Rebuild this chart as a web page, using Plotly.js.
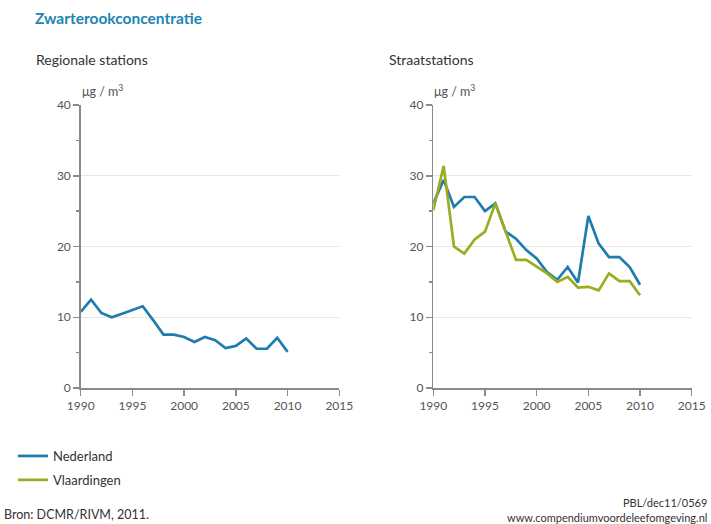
<!DOCTYPE html>
<html>
<head>
<meta charset="utf-8">
<script src="https://cdn.plot.ly/plotly-3.0.1.min.js"></script>
<style>html,body{margin:0;padding:0;background:#fff;}#chart{width:711px;height:524px;}</style>
</head>
<body>
<div id="chart"></div>
<script>
// Data
const years = [1990,1991,1992,1993,1994,1995,1996,1997,1998,1999,2000,2001,2002,2003,2004,2005,2006,2007,2008,2009,2010];
const regionaalNederland = [10.75,12.5,10.6,10.0,10.5,11.0,11.55,9.6,7.55,7.55,7.2,6.5,7.2,6.75,5.65,5.95,7.0,5.55,5.55,7.1,5.1];
const straatNederland = [26.1,29.4,25.6,27.0,27.0,25.0,26.1,22.1,21.1,19.5,18.3,16.4,15.3,17.1,14.9,24.3,20.4,18.5,18.5,17.1,14.6];
const straatVlaardingen = [25.1,31.4,20.0,19.0,21.0,22.1,26.1,22.1,18.1,18.1,17.2,16.2,15.0,15.7,14.2,14.3,13.8,16.2,15.1,15.1,13.1];
const xTicks = [1990,1995,2000,2005,2010,2015];
const yTicks = [0,10,20,30,40];
const seriesNames = ['Nederland','Vlaardingen'];

const blue = '#1f7cae';
const green = '#9aad1e';
const FONT = 'Lato, "Open Sans", sans-serif';

const traces = [
  {x: years, y: regionaalNederland, type:'scatter', mode:'lines', name: seriesNames[0],
   line:{color: blue, width:2.7}, xaxis:'x', yaxis:'y', showlegend:true, legendgroup:'ned'},
  {x: years, y: straatNederland, type:'scatter', mode:'lines', name: seriesNames[0],
   line:{color: blue, width:2.7}, xaxis:'x2', yaxis:'y2', showlegend:false, legendgroup:'ned'},
  {x: years, y: straatVlaardingen, type:'scatter', mode:'lines', name: seriesNames[1],
   line:{color: green, width:2.7}, xaxis:'x2', yaxis:'y2', showlegend:true, legendgroup:'vla'}
];

function xa(domain, anchor){
  return {domain: domain, anchor: anchor, range:[1990,2015], tickvals: xTicks, ticktext: xTicks.map(String),
    showgrid:false, zeroline:false, showline:true, linecolor:'#8a8a8a', linewidth:1.5,
    ticks:'outside', ticklen:6, tickwidth:1.5, tickcolor:'#8a8a8a',
    tickfont:{family:FONT, size:12, color:'#555'}, fixedrange:true};
}
function ya(domain, anchor){
  return {domain: domain, anchor: anchor, range:[0,40], tickvals: yTicks, ticktext: yTicks.map(String),
    showgrid:true, gridcolor:'#e6e6e6', gridwidth:1.2, zeroline:false, showline:true, linecolor:'#8a8a8a', linewidth:1.5,
    ticks:'outside', ticklen:6, tickwidth:1.5, tickcolor:'#8a8a8a',
    minor:{tickvals:[5,15,25,35], ticks:'outside', ticklen:3, tickwidth:1.5, tickcolor:'#8a8a8a', showgrid:false},
    tickfont:{family:FONT, size:12, color:'#555'}, fixedrange:true};
}

const yDom = [136/524, 419/524];
const layout = {
  width:711, height:524,
  margin:{l:0,r:0,t:0,b:0},
  paper_bgcolor:'#fff', plot_bgcolor:'#fff',
  font:{family:FONT, color:'#333'},
  title:{text:'<b>Zwarterookconcentratie</b>', x:35/711, xanchor:'left', y:1-19/524, yanchor:'middle',
    font:{family:FONT, size:15.5, color:'#1b86b4'}},
  xaxis: xa([80.7/711, 339.3/711], 'y'),
  yaxis: ya(yDom, 'x'),
  xaxis2: xa([433.3/711, 691.7/711], 'y2'),
  yaxis2: ya(yDom, 'x2'),
  showlegend:true,
  legend:{x:13/711, xanchor:'left', y:1-441/524, yanchor:'top', orientation:'v',
    font:{family:FONT, size:13, color:'#333'}, bgcolor:'rgba(0,0,0,0)', tracegroupgap:4, itemwidth:30},
  annotations:[
    {text:'Regionale stations', xref:'paper', yref:'paper', x:34/711, y:1-59/524, xanchor:'left', yanchor:'middle', showarrow:false,
     font:{family:FONT, size:14, color:'#333'}},
    {text:'Straatstations', xref:'paper', yref:'paper', x:387/711, y:1-59/524, xanchor:'left', yanchor:'middle', showarrow:false,
     font:{family:FONT, size:14, color:'#333'}},
    {text:'μg / m<sup>3</sup>', xref:'paper', yref:'paper', x:80/711, y:1-90/524, xanchor:'left', yanchor:'middle', showarrow:false,
     font:{family:FONT, size:12.5, color:'#555'}},
    {text:'μg / m<sup>3</sup>', xref:'paper', yref:'paper', x:432/711, y:1-90/524, xanchor:'left', yanchor:'middle', showarrow:false,
     font:{family:FONT, size:12.5, color:'#555'}},
    {text:'Bron: DCMR/RIVM, 2011.', xref:'paper', yref:'paper', x:2/711, y:1-514/524, xanchor:'left', yanchor:'middle', showarrow:false,
     font:{family:FONT, size:12.5, color:'#333'}},
    {text:'PBL/dec11/0569', xref:'paper', yref:'paper', x:709/711, y:1-502/524, xanchor:'right', yanchor:'middle', showarrow:false,
     font:{family:FONT, size:11, color:'#333'}},
    {text:'www.compendiumvoordeleefomgeving.nl', xref:'paper', yref:'paper', x:709/711, y:1-517/524, xanchor:'right', yanchor:'middle', showarrow:false,
     font:{family:FONT, size:11, color:'#333'}}
  ]
};

Plotly.newPlot('chart', traces, layout, {displayModeBar:false, staticPlot:true});
</script>
</body>
</html>
